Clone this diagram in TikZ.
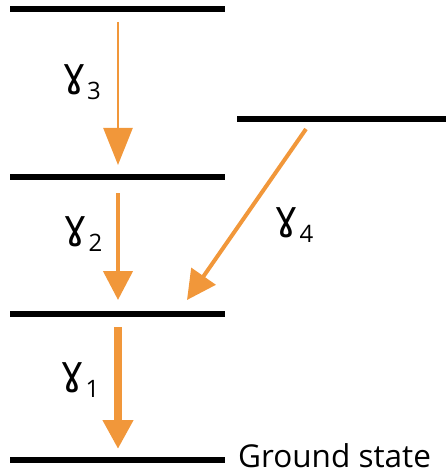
\documentclass[tikz,border=0pt]{standalone}
\usepackage{fontspec}
\setmainfont{Open Sans}
\newfontfamily\gamfont{DejaVu Sans}
\usetikzlibrary{arrows.meta}
\definecolor{photon}{RGB}{241,151,58}
\tikzset{
  level/.style={line width=6pt, black},
  emission/.style={draw=photon, color=photon, -{Triangle[width=29pt,length=29pt]}},
  glabel/.style={inner sep=0pt, anchor=center},
  gtext/.style={font=\fontsize{31.5}{32}\selectfont, inner sep=0pt}
}
\newcommand{\gam}[1]{{\gamfont\fontsize{40}{40}\selectfont ɣ}\kern1pt\raisebox{-13pt}{\fontsize{24}{24}\selectfont #1}}
\begin{document}
\begin{tikzpicture}[x=1pt,y=-1pt]
\useasboundingbox (0,0) rectangle (446,473);
% levels
\coordinate (L4a) at (10,9);   \coordinate (L4b) at (225,9);
\coordinate (L3a) at (10,177); \coordinate (L3b) at (225,177);
\coordinate (L2a) at (10,314); \coordinate (L2b) at (225,314);
\coordinate (L1a) at (10,459.5); \coordinate (L1b) at (225,459.5);
\coordinate (Sa) at (237,119); \coordinate (Sb) at (446,119);
\draw[level] (L4a) -- (L4b);
\draw[level] (L3a) -- (L3b);
\draw[level] (L2a) -- (L2b);
\draw[level] (L1a) -- (L1b);
\draw[level] (Sa) -- (Sb);
% arrow end points
\coordinate (g3s) at (118,22);  \coordinate (g3e) at (118,165);
\coordinate (g2s) at (118,193); \coordinate (g2e) at (118,300);
\coordinate (g1s) at (118,327); \coordinate (g1e) at (118,449);
\coordinate (g4s) at (306,129); \coordinate (g4e) at (187,300);
\draw[emission, line width=2.5pt, -{Triangle[width=29pt,length=37pt]}] (g3s) -- (g3e);
\draw[emission, line width=4.5pt] (g2s) -- (g2e);
\draw[emission, line width=4pt] (g4s) -- (g4e);
\draw[emission, line width=8pt] (g1s) -- (g1e);
% labels
\node[glabel] (t3) at (81.5,82.5) {\gam{3}};
\node[glabel] (t2) at (83,234) {\gam{2}};
\node[glabel] (t4) at (294,225) {\gam{4}};
\node[glabel] (t1) at (80,380) {\gam{1}};
\node[gtext, anchor=base west] (gs) at (238,467) {Ground state};
\end{tikzpicture}
\end{document}
